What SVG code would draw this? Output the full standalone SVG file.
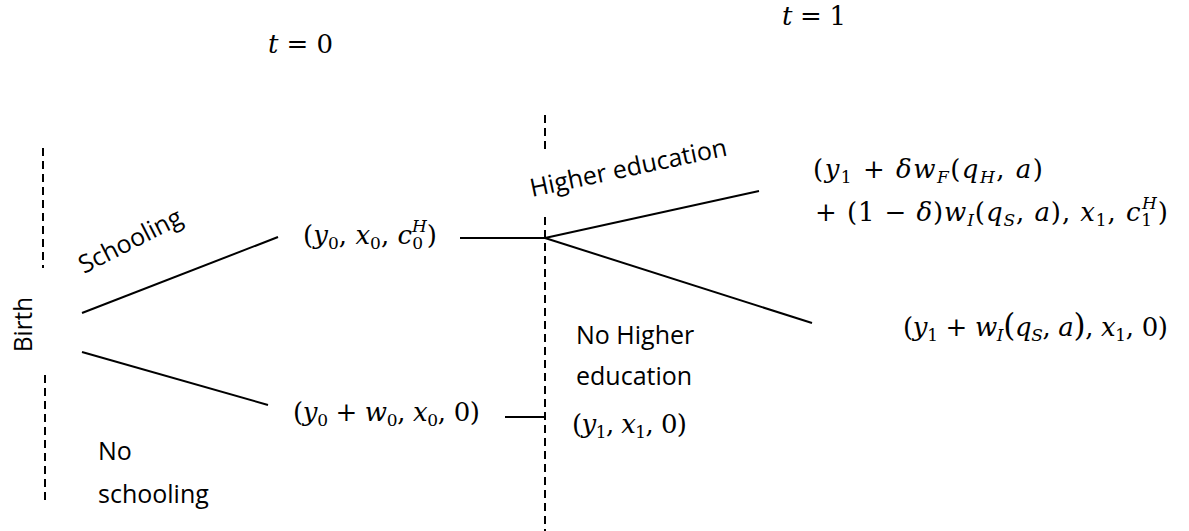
<svg xmlns="http://www.w3.org/2000/svg" width="1189" height="531" viewBox="0 0 1189 531">
<style>
.lbl{font-family:"Open Sans","DejaVu Sans",sans-serif;font-size:25px;fill:#000}
.m{font-family:"DejaVu Serif","Liberation Serif",serif;font-size:26px;fill:#000}
.i{font-style:italic}
.s{font-size:17px}
.ln{stroke:#000;stroke-width:2;fill:none}
.dash{stroke:#000;stroke-width:2;stroke-dasharray:8 5;fill:none}
</style>
<rect width="1189" height="531" fill="#fff"/>
<g id="axes">
<line class="dash" x1="43" y1="148" x2="43" y2="268"/>
<line class="dash" x1="45" y1="375" x2="45" y2="500"/>
<line class="dash" x1="545" y1="115" x2="545" y2="152"/>
<line class="dash" x1="545" y1="217" x2="545" y2="531"/>
</g>
<g id="time-labels">
<text class="m" x="268" y="53" textLength="65" lengthAdjust="spacing"><tspan class="i">t</tspan> = 0</text>
<text class="m" x="782" y="25" textLength="64" lengthAdjust="spacing"><tspan class="i">t</tspan> = 1</text>
</g>
<g id="connectors">
<line class="ln" x1="82" y1="313" x2="278" y2="237"/>
<line class="ln" x1="82" y1="352" x2="268" y2="405"/>
<line class="ln" x1="460" y1="238" x2="545" y2="238"/>
<line class="ln" x1="505" y1="417" x2="545" y2="417"/>
<line class="ln" x1="545" y1="238" x2="759" y2="191"/>
<line class="ln" x1="545" y1="238" x2="812" y2="323"/>
</g>
<g id="birth"><text class="lbl" transform="translate(32,352) rotate(-90)" textLength="55" lengthAdjust="spacingAndGlyphs">Birth</text></g>
<g id="schooling-label"><text class="lbl" transform="translate(84,274) rotate(-27)">Schooling</text></g>
<g id="no-schooling-label"><text class="lbl" x="98" y="460">No</text><text class="lbl" x="98" y="503">schooling</text></g>
<g id="higher-label"><text class="lbl" transform="translate(532,197) rotate(-12)">Higher education</text></g>
<g id="no-higher-label"><text class="lbl" x="576" y="344">No Higher</text><text class="lbl" x="576" y="385">education</text></g>
<g id="node-school"><text class="m" x="303" y="244" textLength="134" lengthAdjust="spacing">(<tspan class="i">y</tspan><tspan class="s" dy="5">0</tspan><tspan dy="-5">, </tspan><tspan class="i">x</tspan><tspan class="s" dy="5">0</tspan><tspan dy="-5">, </tspan><tspan class="i">c</tspan><tspan class="s" dy="5">0</tspan><tspan class="s i" dx="-11" dy="-17">H</tspan><tspan dy="12">)</tspan></text></g>
<g id="node-noschool"><text class="m" x="293" y="421" textLength="187" lengthAdjust="spacing">(<tspan class="i">y</tspan><tspan class="s" dy="5">0</tspan><tspan dy="-5"> + </tspan><tspan class="i">w</tspan><tspan class="s" dy="5">0</tspan><tspan dy="-5">, </tspan><tspan class="i">x</tspan><tspan class="s" dy="5">0</tspan><tspan dy="-5">, 0)</tspan></text></g>
<g id="node-nohigher"><text class="m" x="572" y="433" textLength="115" lengthAdjust="spacing">(<tspan class="i">y</tspan><tspan class="s" dy="5">1</tspan><tspan dy="-5">, </tspan><tspan class="i">x</tspan><tspan class="s" dy="5">1</tspan><tspan dy="-5">, 0)</tspan></text></g>
<g id="node-higher">
<text class="m" x="813" y="178" textLength="230" lengthAdjust="spacing">(<tspan class="i">y</tspan><tspan class="s" dy="5">1</tspan><tspan dy="-5"> + </tspan><tspan class="i">δw</tspan><tspan class="s i" dy="5">F</tspan><tspan dy="-5">(</tspan><tspan class="i">q</tspan><tspan class="s i" dy="5">H</tspan><tspan dy="-5">, </tspan><tspan class="i">a</tspan>)</text>
<text class="m" x="815" y="221" textLength="353" lengthAdjust="spacing">+ (1 − <tspan class="i">δ</tspan>)<tspan class="i">w</tspan><tspan class="s i" dy="5">I</tspan><tspan dy="-5">(</tspan><tspan class="i">q</tspan><tspan class="s i" dy="5">S</tspan><tspan dy="-5">, </tspan><tspan class="i">a</tspan>), <tspan class="i">x</tspan><tspan class="s" dy="5">1</tspan><tspan dy="-5">, </tspan><tspan class="i">c</tspan><tspan class="s" dy="5">1</tspan><tspan class="s i" dx="-11" dy="-17">H</tspan><tspan dy="12">)</tspan></text>
</g>
<g id="node-higher-no-grad"><text class="m" x="903" y="336" textLength="265" lengthAdjust="spacing">(<tspan class="i">y</tspan><tspan class="s" dy="5">1</tspan><tspan dy="-5"> + </tspan><tspan class="i">w</tspan><tspan class="s i" dy="5">I</tspan><tspan dy="-5" font-size="31">(</tspan><tspan class="i">q</tspan><tspan class="s i" dy="5">S</tspan><tspan dy="-5">, </tspan><tspan class="i">a</tspan><tspan font-size="31">)</tspan>, <tspan class="i">x</tspan><tspan class="s" dy="5">1</tspan><tspan dy="-5">, 0)</tspan></text></g>
</svg>
